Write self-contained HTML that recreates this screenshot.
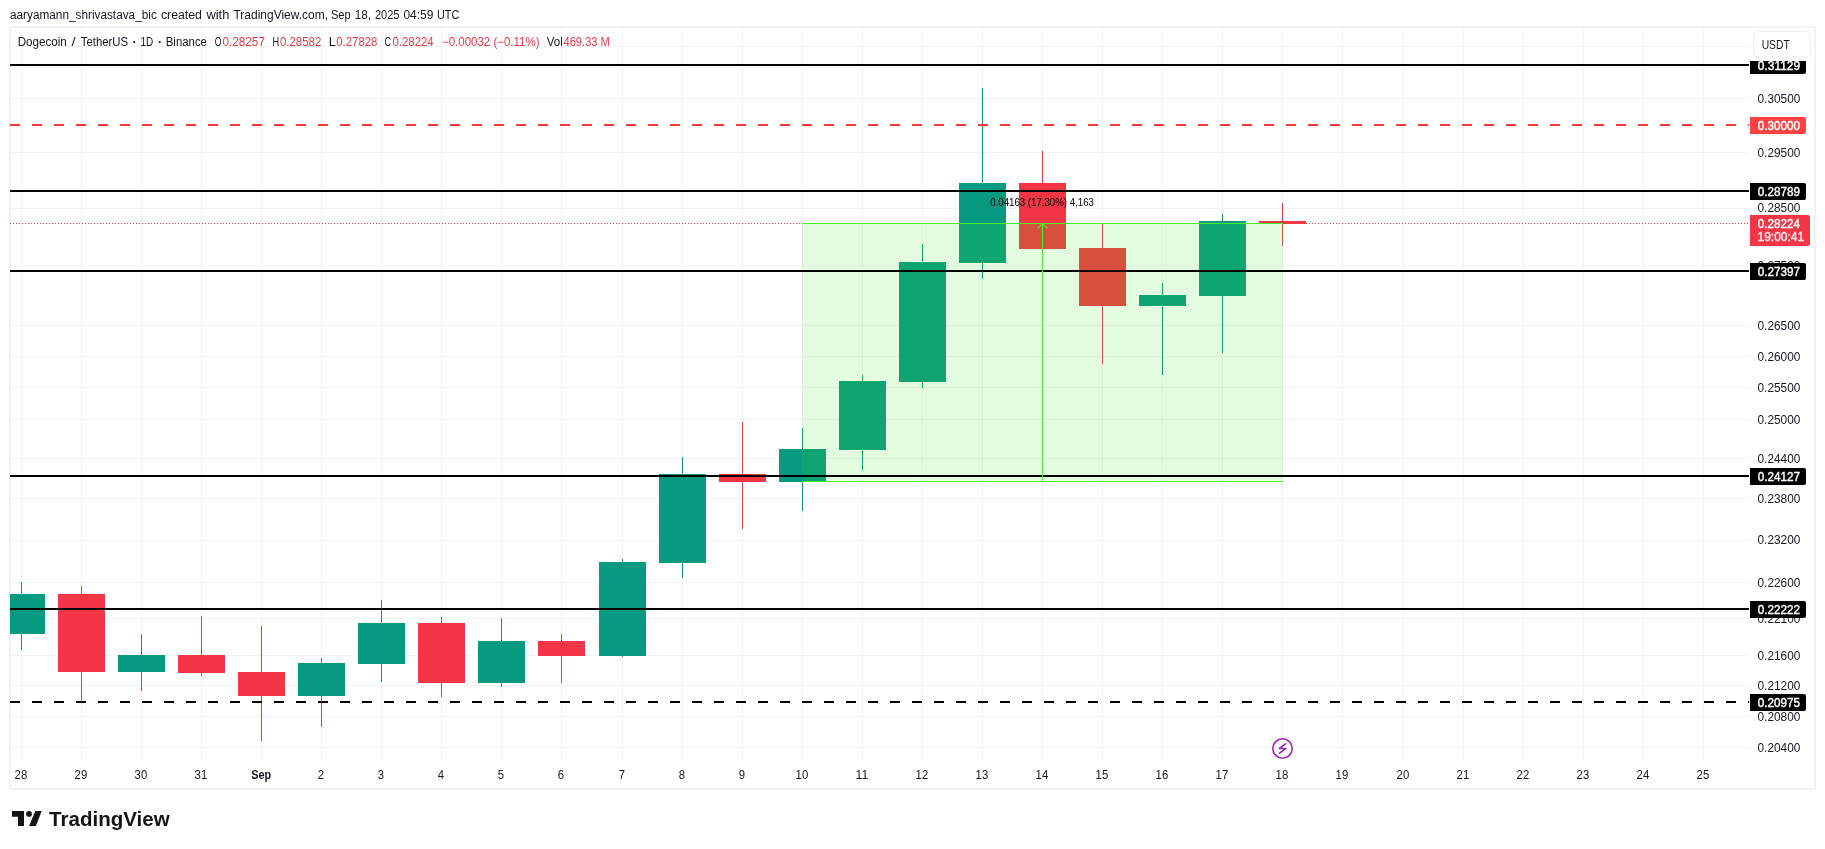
<!DOCTYPE html><html><head><meta charset="utf-8"><style>
html,body{margin:0;padding:0;background:#fff;width:1825px;height:849px;overflow:hidden}
svg{display:block;position:absolute;left:0;top:0;will-change:transform}
text{font-family:"Liberation Sans",sans-serif}
</style></head><body>
<svg width="1825" height="849" viewBox="0 0 1825 849">
<g fill="#f2f2f2" shape-rendering="crispEdges"><rect x="9" y="26" width="807" height="2"/><rect x="9" y="26" width="1807" height="2"/><rect x="9" y="788" width="1807" height="2"/><rect x="9" y="26" width="2" height="764"/><rect x="1814" y="26" width="2" height="764"/></g>
<g fill="rgba(42,46,57,0.06)" shape-rendering="crispEdges"><rect x="21" y="28" width="1" height="733"/><rect x="81" y="28" width="1" height="733"/><rect x="141" y="28" width="1" height="733"/><rect x="201" y="28" width="1" height="733"/><rect x="261" y="28" width="1" height="733"/><rect x="321" y="28" width="1" height="733"/><rect x="381" y="28" width="1" height="733"/><rect x="441" y="28" width="1" height="733"/><rect x="501" y="28" width="1" height="733"/><rect x="561" y="28" width="1" height="733"/><rect x="622" y="28" width="1" height="733"/><rect x="682" y="28" width="1" height="733"/><rect x="742" y="28" width="1" height="733"/><rect x="802" y="28" width="1" height="733"/><rect x="862" y="28" width="1" height="733"/><rect x="922" y="28" width="1" height="733"/><rect x="982" y="28" width="1" height="733"/><rect x="1042" y="28" width="1" height="733"/><rect x="1102" y="28" width="1" height="733"/><rect x="1162" y="28" width="1" height="733"/><rect x="1222" y="28" width="1" height="733"/><rect x="1282" y="28" width="1" height="733"/><rect x="1342" y="28" width="1" height="733"/><rect x="1403" y="28" width="1" height="733"/><rect x="1463" y="28" width="1" height="733"/><rect x="1523" y="28" width="1" height="733"/><rect x="1583" y="28" width="1" height="733"/><rect x="1643" y="28" width="1" height="733"/><rect x="1703" y="28" width="1" height="733"/><rect x="10" y="46" width="1739" height="1"/><rect x="10" y="98" width="1739" height="1"/><rect x="10" y="152" width="1739" height="1"/><rect x="10" y="208" width="1739" height="1"/><rect x="10" y="265" width="1739" height="1"/><rect x="10" y="325" width="1739" height="1"/><rect x="10" y="356" width="1739" height="1"/><rect x="10" y="387" width="1739" height="1"/><rect x="10" y="419" width="1739" height="1"/><rect x="10" y="458" width="1739" height="1"/><rect x="10" y="498" width="1739" height="1"/><rect x="10" y="540" width="1739" height="1"/><rect x="10" y="582" width="1739" height="1"/><rect x="10" y="618" width="1739" height="1"/><rect x="10" y="655" width="1739" height="1"/><rect x="10" y="685" width="1739" height="1"/><rect x="10" y="716" width="1739" height="1"/><rect x="10" y="747" width="1739" height="1"/></g>
<g shape-rendering="crispEdges"><rect x="21" y="582" width="1" height="68" fill="#089981"/><rect x="10" y="594" width="35" height="40" fill="#089981"/><rect x="81" y="586" width="1" height="116" fill="#F23645"/><rect x="58" y="594" width="47" height="78" fill="#F23645"/><rect x="141" y="634" width="1" height="57" fill="#089981"/><rect x="118" y="655" width="47" height="17" fill="#089981"/><rect x="201" y="616" width="1" height="60" fill="#F23645"/><rect x="178" y="655" width="47" height="18" fill="#F23645"/><rect x="261" y="626" width="1" height="115" fill="#F23645"/><rect x="238" y="672" width="47" height="24" fill="#F23645"/><rect x="321" y="658" width="1" height="69" fill="#089981"/><rect x="298" y="663" width="47" height="33" fill="#089981"/><rect x="381" y="600" width="1" height="82" fill="#089981"/><rect x="358" y="623" width="47" height="41" fill="#089981"/><rect x="441" y="617" width="1" height="80" fill="#F23645"/><rect x="418" y="623" width="47" height="60" fill="#F23645"/><rect x="501" y="618" width="1" height="69" fill="#089981"/><rect x="478" y="641" width="47" height="42" fill="#089981"/><rect x="561" y="634" width="1" height="49" fill="#F23645"/><rect x="538" y="641" width="47" height="15" fill="#F23645"/><rect x="622" y="559" width="1" height="98" fill="#089981"/><rect x="599" y="562" width="47" height="94" fill="#089981"/><rect x="682" y="457" width="1" height="121" fill="#089981"/><rect x="659" y="474" width="47" height="89" fill="#089981"/><rect x="742" y="422" width="1" height="107" fill="#F23645"/><rect x="719" y="474" width="47" height="8" fill="#F23645"/><rect x="802" y="428" width="1" height="83" fill="#089981"/><rect x="779" y="449" width="47" height="33" fill="#089981"/><rect x="862" y="375" width="1" height="95" fill="#089981"/><rect x="839" y="381" width="47" height="69" fill="#089981"/><rect x="922" y="244" width="1" height="144" fill="#089981"/><rect x="899" y="262" width="47" height="120" fill="#089981"/><rect x="982" y="88" width="1" height="191" fill="#089981"/><rect x="959" y="183" width="47" height="80" fill="#089981"/><rect x="1042" y="151" width="1" height="98" fill="#F23645"/><rect x="1019" y="183" width="47" height="66" fill="#F23645"/><rect x="1102" y="224" width="1" height="140" fill="#F23645"/><rect x="1079" y="248" width="47" height="58" fill="#F23645"/><rect x="1162" y="283" width="1" height="92" fill="#089981"/><rect x="1139" y="295" width="47" height="11" fill="#089981"/><rect x="1222" y="214" width="1" height="139" fill="#089981"/><rect x="1199" y="221" width="47" height="75" fill="#089981"/><rect x="1282" y="203" width="1" height="43" fill="#F23645"/><rect x="1259" y="221" width="47" height="3" fill="#F23645"/></g>
<rect x="802" y="223" width="481" height="259" fill="rgb(60,235,30)" fill-opacity="0.14" shape-rendering="crispEdges"/>
<g shape-rendering="crispEdges"><rect x="10" y="64" width="1739" height="2" fill="#000"/><line x1="10" y1="125.0" x2="1749" y2="125.0" stroke="#ff3838" stroke-width="2" stroke-dasharray="10 12"/><rect x="10" y="190" width="1739" height="2" fill="#000"/><rect x="10" y="270" width="1739" height="2" fill="#000"/><rect x="10" y="475" width="1739" height="2" fill="#000"/><rect x="10" y="608" width="1739" height="2" fill="#000"/><line x1="10" y1="702.0" x2="1749" y2="702.0" stroke="#000" stroke-width="2" stroke-dasharray="10 12"/></g>
<line x1="10" y1="223.5" x2="802" y2="223.5" stroke="#F23645" stroke-width="1" stroke-dasharray="1 2" shape-rendering="crispEdges"/>
<line x1="1306" y1="223.5" x2="1749" y2="223.5" stroke="#F23645" stroke-width="1" stroke-dasharray="1 2" stroke-dashoffset="-0" shape-rendering="crispEdges"/>
<g fill="#4cf02c" shape-rendering="crispEdges"><rect x="802" y="223" width="481" height="1"/><rect x="802" y="481" width="481" height="1"/><rect x="1042" y="224" width="1" height="257"/></g>
<path d="M1037.5 228.3 L1042.5 223.8 L1047.5 228.3" fill="none" stroke="#4cf02c" stroke-width="1.2"/>
<text x="990.21" y="206" font-size="10.0" fill="#000" textLength="103.75" lengthAdjust="spacingAndGlyphs">0.04163 (17.30%) 4,163</text>
<g font-size="12" fill="#131722"><text x="1757.52" y="103.0" textLength="42.85" lengthAdjust="spacingAndGlyphs">0.30500</text><text x="1757.52" y="157.0" textLength="42.85" lengthAdjust="spacingAndGlyphs">0.29500</text><text x="1757.52" y="212.0" textLength="42.85" lengthAdjust="spacingAndGlyphs">0.28500</text><text x="1757.52" y="270.0" textLength="42.85" lengthAdjust="spacingAndGlyphs">0.27500</text><text x="1757.52" y="330.0" textLength="42.85" lengthAdjust="spacingAndGlyphs">0.26500</text><text x="1757.52" y="361.0" textLength="42.85" lengthAdjust="spacingAndGlyphs">0.26000</text><text x="1757.52" y="392.0" textLength="42.85" lengthAdjust="spacingAndGlyphs">0.25500</text><text x="1757.52" y="424.0" textLength="42.85" lengthAdjust="spacingAndGlyphs">0.25000</text><text x="1757.52" y="463.0" textLength="42.85" lengthAdjust="spacingAndGlyphs">0.24400</text><text x="1757.52" y="503.0" textLength="42.85" lengthAdjust="spacingAndGlyphs">0.23800</text><text x="1757.52" y="544.0" textLength="42.85" lengthAdjust="spacingAndGlyphs">0.23200</text><text x="1757.52" y="587.0" textLength="42.85" lengthAdjust="spacingAndGlyphs">0.22600</text><text x="1757.52" y="623.0" textLength="42.85" lengthAdjust="spacingAndGlyphs">0.22100</text><text x="1757.52" y="660.0" textLength="42.85" lengthAdjust="spacingAndGlyphs">0.21600</text><text x="1757.52" y="690.0" textLength="42.85" lengthAdjust="spacingAndGlyphs">0.21200</text><text x="1757.52" y="721.0" textLength="42.85" lengthAdjust="spacingAndGlyphs">0.20800</text><text x="1757.52" y="752.0" textLength="42.85" lengthAdjust="spacingAndGlyphs">0.20400</text></g>
<g font-size="12"><rect x="1750" y="57" width="56" height="17" rx="2" fill="#000"/><rect x="1750" y="57" width="4" height="17" fill="#000"/><text x="1757.83" y="70" textLength="42.24" lengthAdjust="spacingAndGlyphs" fill="#fff" stroke="#fff" stroke-width="0.4">0.31129</text><rect x="1750" y="117" width="56" height="17" rx="2" fill="#ff4343"/><rect x="1750" y="117" width="4" height="17" fill="#ff4343"/><text x="1757.83" y="130" textLength="42.24" lengthAdjust="spacingAndGlyphs" fill="#fff" stroke="#fff" stroke-width="0.4">0.30000</text><rect x="1750" y="183" width="56" height="17" rx="2" fill="#000"/><rect x="1750" y="183" width="4" height="17" fill="#000"/><text x="1757.83" y="196" textLength="42.24" lengthAdjust="spacingAndGlyphs" fill="#fff" stroke="#fff" stroke-width="0.4">0.28789</text><rect x="1750" y="263" width="56" height="17" rx="2" fill="#000"/><rect x="1750" y="263" width="4" height="17" fill="#000"/><text x="1757.83" y="276" textLength="42.24" lengthAdjust="spacingAndGlyphs" fill="#fff" stroke="#fff" stroke-width="0.4">0.27397</text><rect x="1750" y="468" width="56" height="17" rx="2" fill="#000"/><rect x="1750" y="468" width="4" height="17" fill="#000"/><text x="1757.83" y="481" textLength="42.24" lengthAdjust="spacingAndGlyphs" fill="#fff" stroke="#fff" stroke-width="0.4">0.24127</text><rect x="1750" y="601" width="56" height="17" rx="2" fill="#000"/><rect x="1750" y="601" width="4" height="17" fill="#000"/><text x="1757.83" y="614" textLength="42.24" lengthAdjust="spacingAndGlyphs" fill="#fff" stroke="#fff" stroke-width="0.4">0.22222</text><rect x="1750" y="694" width="56" height="17" rx="2" fill="#000"/><rect x="1750" y="694" width="4" height="17" fill="#000"/><text x="1757.83" y="707" textLength="42.24" lengthAdjust="spacingAndGlyphs" fill="#fff" stroke="#fff" stroke-width="0.4">0.20975</text><rect x="1750" y="215" width="60" height="31" rx="2" fill="#F23645"/><rect x="1750" y="215" width="4" height="31" fill="#F23645"/><text x="1757.83" y="228" textLength="42.24" lengthAdjust="spacingAndGlyphs" fill="#fff" stroke="#fff" stroke-width="0.4">0.28224</text><text x="1757.52" y="241" textLength="46.67" lengthAdjust="spacingAndGlyphs" fill="#fff" fill-opacity="0.85" stroke="#fff" stroke-opacity="0.85" stroke-width="0.4">19:00:41</text></g>
<rect x="1750" y="28" width="64" height="33" fill="#fff"/>
<rect x="1753.5" y="31.5" width="57" height="25.5" rx="4" fill="#fff" stroke="#eeeeee" stroke-width="1"/>
<text x="1761.65" y="49" font-size="12" fill="#131722" textLength="28.15" lengthAdjust="spacingAndGlyphs">USDT</text>
<g fill="#131722"><circle cx="134.2" cy="42.1" r="1.05"/><circle cx="159.7" cy="42.1" r="1.05"/></g>
<text x="17.66" y="46" font-size="12" fill="#131722" textLength="49.18" lengthAdjust="spacingAndGlyphs">Dogecoin</text>
<text x="71.44" y="46" font-size="12" fill="#131722" textLength="4.12" lengthAdjust="spacingAndGlyphs">/</text>
<text x="80.80" y="46" font-size="12" fill="#131722" textLength="47.29" lengthAdjust="spacingAndGlyphs">TetherUS</text>
<text x="140.50" y="46" font-size="12" fill="#131722" textLength="12.72" lengthAdjust="spacingAndGlyphs">1D</text>
<text x="165.77" y="46" font-size="12" fill="#131722" textLength="41.20" lengthAdjust="spacingAndGlyphs">Binance</text>
<text x="214.76" y="46" font-size="12" fill="#131722" textLength="6.65" lengthAdjust="spacingAndGlyphs">O</text>
<text x="222.52" y="46" font-size="12" fill="#F23645" textLength="42.41" lengthAdjust="spacingAndGlyphs">0.28257</text>
<text x="272.49" y="46" font-size="12" fill="#131722" textLength="6.67" lengthAdjust="spacingAndGlyphs">H</text>
<text x="279.91" y="46" font-size="12" fill="#F23645" textLength="41.44" lengthAdjust="spacingAndGlyphs">0.28582</text>
<text x="328.79" y="46" font-size="12" fill="#131722" textLength="7.08" lengthAdjust="spacingAndGlyphs">L</text>
<text x="336.25" y="46" font-size="12" fill="#F23645" textLength="41.15" lengthAdjust="spacingAndGlyphs">0.27828</text>
<text x="384.49" y="46" font-size="12" fill="#131722" textLength="6.54" lengthAdjust="spacingAndGlyphs">C</text>
<text x="392.49" y="46" font-size="12" fill="#F23645" textLength="41.21" lengthAdjust="spacingAndGlyphs">0.28224</text>
<text x="441.97" y="46" font-size="12" fill="#F23645" textLength="97.52" lengthAdjust="spacingAndGlyphs">−0.00032 (−0.11%)</text>
<text x="546.64" y="46" font-size="12" fill="#131722" textLength="16.09" lengthAdjust="spacingAndGlyphs">Vol</text>
<text x="563.48" y="46" font-size="12" fill="#F23645" textLength="46.42" lengthAdjust="spacingAndGlyphs">469.33 M</text>
<g font-size="12" fill="#131722"><text x="20.9" y="779" text-anchor="middle" textLength="12.6" lengthAdjust="spacingAndGlyphs">28</text><text x="80.9" y="779" text-anchor="middle" textLength="12.6" lengthAdjust="spacingAndGlyphs">29</text><text x="140.9" y="779" text-anchor="middle" textLength="12.6" lengthAdjust="spacingAndGlyphs">30</text><text x="200.9" y="779" text-anchor="middle" textLength="12.6" lengthAdjust="spacingAndGlyphs">31</text><text x="251.16" y="779" font-size="12" font-weight="bold" fill="#131722" textLength="19.98" lengthAdjust="spacingAndGlyphs">Sep</text><text x="320.9" y="779" text-anchor="middle" textLength="6.3" lengthAdjust="spacingAndGlyphs">2</text><text x="380.9" y="779" text-anchor="middle" textLength="6.3" lengthAdjust="spacingAndGlyphs">3</text><text x="440.9" y="779" text-anchor="middle" textLength="6.3" lengthAdjust="spacingAndGlyphs">4</text><text x="500.9" y="779" text-anchor="middle" textLength="6.3" lengthAdjust="spacingAndGlyphs">5</text><text x="560.9" y="779" text-anchor="middle" textLength="6.3" lengthAdjust="spacingAndGlyphs">6</text><text x="621.9" y="779" text-anchor="middle" textLength="6.3" lengthAdjust="spacingAndGlyphs">7</text><text x="681.9" y="779" text-anchor="middle" textLength="6.3" lengthAdjust="spacingAndGlyphs">8</text><text x="741.9" y="779" text-anchor="middle" textLength="6.3" lengthAdjust="spacingAndGlyphs">9</text><text x="801.9" y="779" text-anchor="middle" textLength="12.6" lengthAdjust="spacingAndGlyphs">10</text><text x="861.9" y="779" text-anchor="middle" textLength="12.6" lengthAdjust="spacingAndGlyphs">11</text><text x="921.9" y="779" text-anchor="middle" textLength="12.6" lengthAdjust="spacingAndGlyphs">12</text><text x="981.9" y="779" text-anchor="middle" textLength="12.6" lengthAdjust="spacingAndGlyphs">13</text><text x="1041.9" y="779" text-anchor="middle" textLength="12.6" lengthAdjust="spacingAndGlyphs">14</text><text x="1101.9" y="779" text-anchor="middle" textLength="12.6" lengthAdjust="spacingAndGlyphs">15</text><text x="1161.9" y="779" text-anchor="middle" textLength="12.6" lengthAdjust="spacingAndGlyphs">16</text><text x="1221.9" y="779" text-anchor="middle" textLength="12.6" lengthAdjust="spacingAndGlyphs">17</text><text x="1281.9" y="779" text-anchor="middle" textLength="12.6" lengthAdjust="spacingAndGlyphs">18</text><text x="1341.9" y="779" text-anchor="middle" textLength="12.6" lengthAdjust="spacingAndGlyphs">19</text><text x="1402.9" y="779" text-anchor="middle" textLength="12.6" lengthAdjust="spacingAndGlyphs">20</text><text x="1462.9" y="779" text-anchor="middle" textLength="12.6" lengthAdjust="spacingAndGlyphs">21</text><text x="1522.9" y="779" text-anchor="middle" textLength="12.6" lengthAdjust="spacingAndGlyphs">22</text><text x="1582.9" y="779" text-anchor="middle" textLength="12.6" lengthAdjust="spacingAndGlyphs">23</text><text x="1642.9" y="779" text-anchor="middle" textLength="12.6" lengthAdjust="spacingAndGlyphs">24</text><text x="1702.9" y="779" text-anchor="middle" textLength="12.6" lengthAdjust="spacingAndGlyphs">25</text></g>
<circle cx="1282.5" cy="748.5" r="9.7" fill="#fff" stroke="#9c27b0" stroke-width="1.6"/>
<path d="M1285.4 743.9 L1279.4 748.5 L1285.7 748.5 L1279.7 753.2" fill="none" stroke="#9c27b0" stroke-width="1.6" stroke-linejoin="round" stroke-linecap="round"/>
<text x="9.99" y="19" font-size="12" fill="#131722" textLength="146.81" lengthAdjust="spacingAndGlyphs">aaryamann_shrivastava_bic</text>
<text x="160.96" y="19" font-size="12" fill="#131722" textLength="40.96" lengthAdjust="spacingAndGlyphs">created</text>
<text x="206.41" y="19" font-size="12" fill="#131722" textLength="22.93" lengthAdjust="spacingAndGlyphs">with</text>
<text x="233.47" y="19" font-size="12" fill="#131722" textLength="94.58" lengthAdjust="spacingAndGlyphs">TradingView.com,</text>
<text x="330.92" y="19" font-size="12" fill="#131722" textLength="19.73" lengthAdjust="spacingAndGlyphs">Sep</text>
<text x="354.78" y="19" font-size="12" fill="#131722" textLength="16.19" lengthAdjust="spacingAndGlyphs">18,</text>
<text x="374.95" y="19" font-size="12" fill="#131722" textLength="24.50" lengthAdjust="spacingAndGlyphs">2025</text>
<text x="403.42" y="19" font-size="12" fill="#131722" textLength="29.93" lengthAdjust="spacingAndGlyphs">04:59</text>
<text x="437.00" y="19" font-size="12" fill="#131722" textLength="22.26" lengthAdjust="spacingAndGlyphs">UTC</text>
<g fill="#141414"><path d="M12 811 H24 V826 H18 V816.7 H12 Z"/><circle cx="29" cy="813.9" r="2.9"/><path d="M35.3 811 H41.7 L35.9 826 H29.1 Z"/></g>
<text x="49.12" y="826" font-size="21" font-weight="bold" fill="#141414" textLength="120.61" lengthAdjust="spacingAndGlyphs">TradingView</text>
</svg></body></html>
